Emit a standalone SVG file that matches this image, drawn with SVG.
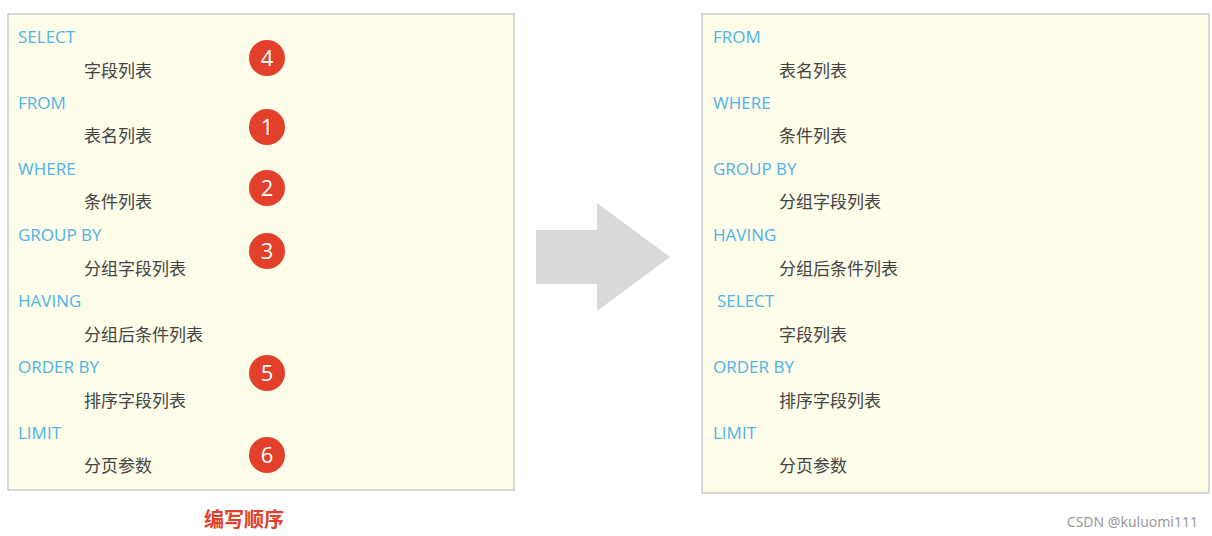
<svg xmlns="http://www.w3.org/2000/svg" width="1212" height="536" viewBox="0 0 1212 536">
<style>
.box{fill:#fefde9;stroke:#b4b4b4;stroke-width:1}
.kw{font-family:"Open Sans","Noto Sans",sans-serif;font-size:17px;fill:#4fb3e8}
.cn{font-family:"Noto Sans CJK SC",sans-serif;font-size:17px;fill:#444}
.badge circle{fill:#e2402a}
.badge text{font-family:"Open Sans",sans-serif;font-size:22px;fill:#fff;text-anchor:middle}
</style>
<rect width="1212" height="536" fill="#fff"/>
<g id="write-order">
<rect class="box" x="8" y="14" width="506" height="476"/>
<text class="kw" x="18" y="43">SELECT</text><text class="cn" x="84" y="77">字段列表</text>
<text class="kw" x="18" y="109">FROM</text><text class="cn" x="84" y="142">表名列表</text>
<text class="kw" x="18" y="175">WHERE</text><text class="cn" x="84" y="208">条件列表</text>
<text class="kw" x="18" y="241">GROUP  BY</text><text class="cn" x="84" y="275">分组字段列表</text>
<text class="kw" x="18" y="307">HAVING</text><text class="cn" x="84" y="341">分组后条件列表</text>
<text class="kw" x="18" y="373">ORDER BY</text><text class="cn" x="84" y="407">排序字段列表</text>
<text class="kw" x="18" y="439">LIMIT</text><text class="cn" x="84" y="472">分页参数</text>
</g>
<g id="badges" class="badge">
<circle cx="267" cy="58" r="18"/><text x="267" y="66">4</text>
<circle cx="267" cy="127" r="18"/><text x="267" y="135">1</text>
<circle cx="267" cy="188" r="18"/><text x="267" y="196">2</text>
<circle cx="267" cy="251" r="18"/><text x="267" y="259">3</text>
<circle cx="267" cy="373" r="18"/><text x="267" y="381">5</text>
<circle cx="267" cy="455" r="18"/><text x="267" y="463">6</text>
</g>
<g id="connectors">
<polygon points="536,230 597,230 597,203 670,257 597,311 597,284 536,284" fill="#d9d9d9"/>
</g>
<g id="exec-order">
<rect class="box" x="702" y="14" width="507" height="479"/>
<text class="kw" x="713" y="43">FROM</text><text class="cn" x="779" y="77">表名列表</text>
<text class="kw" x="713" y="109">WHERE</text><text class="cn" x="779" y="142">条件列表</text>
<text class="kw" x="713" y="175">GROUP  BY</text><text class="cn" x="779" y="208">分组字段列表</text>
<text class="kw" x="713" y="241">HAVING</text><text class="cn" x="779" y="275">分组后条件列表</text>
<text class="kw" x="717" y="307">SELECT</text><text class="cn" x="779" y="341">字段列表</text>
<text class="kw" x="713" y="373">ORDER BY</text><text class="cn" x="779" y="407">排序字段列表</text>
<text class="kw" x="713" y="439">LIMIT</text><text class="cn" x="779" y="472">分页参数</text>
</g>
<text x="244" y="527" text-anchor="middle" font-family="Noto Sans CJK SC,sans-serif" font-size="20" font-weight="bold" fill="#e2402a">编写顺序</text>
<text x="1198" y="527" text-anchor="end" font-family="Noto Sans,sans-serif" font-size="14" fill="#999">CSDN @kuluomi111</text>
</svg>
